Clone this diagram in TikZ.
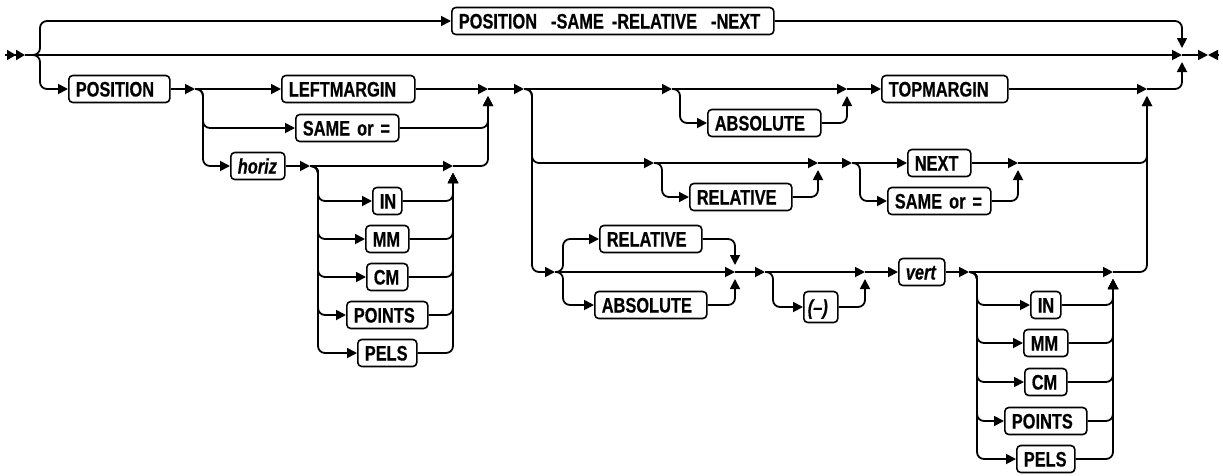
\documentclass[tikz,border=0pt]{standalone}
\usepackage{fontspec}
\setmainfont{Liberation Sans}[FakeStretch=0.78, BoldFeatures={FakeBold=0.5}, BoldItalicFeatures={FakeBold=0.5}]
\usetikzlibrary{arrows.meta}
\tikzset{
  every picture/.style={font=\fontsize{21}{24}\selectfont\bfseries, >={Triangle[length=10pt,width=10pt]}},
  caja/.style={draw, line width=1.6pt, rounded corners=4pt, anchor=west, minimum height=27pt,
               text height=15pt, text depth=0pt, inner xsep=7pt, inner ysep=2pt,
               text width=#1, align=left},
  var/.style={caja=#1, font=\fontsize{21}{24}\selectfont\bfseries\itshape},
  flecha/.style={->, line width=1.8pt, rounded corners=7pt},
  inicio/.style={-{Triangle[length=9pt,width=10pt]Triangle[length=9pt,width=10pt]}, line width=1.8pt},
}

\begin{document}
\begin{tikzpicture}[x=1pt, y=-1pt]
  \useasboundingbox (0,0) rectangle (1223,475);
  % bifurcaciones y uniones
  \coordinate (ini) at (5,55);   \coordinate (fin) at (1208,55); \coordinate (finb) at (1218,55);
  \coordinate (c1) at (40,55);   \coordinate (c2) at (203,89);   \coordinate (c3) at (318,166);
  \coordinate (c4) at (532,89);  \coordinate (c5) at (680,89);   \coordinate (c6) at (662,163);
  \coordinate (c7) at (860,163); \coordinate (c8) at (563,272);  \coordinate (c9) at (773,272);
  \coordinate (c10) at (977,272);
  \coordinate (j0) at (1182,55); \coordinate (j1) at (488,89);   \coordinate (j2) at (453,166);
  \coordinate (j3) at (847,89);  \coordinate (j4) at (1147,89);  \coordinate (j5) at (818,163);
  \coordinate (j6) at (1018,163);\coordinate (j7) at (735,272);  \coordinate (j8) at (865,272);
  \coordinate (j9) at (1113,272);
  % palabras clave
  \node[caja=308pt] (todo) at (451,21) {POSITION\hspace{14pt}-SAME\hspace{8pt}-RELATIVE\hspace{14pt}-NEXT};
  \node[caja=87pt] (pos) at (68,89) {POSITION};
  \node[caja=119pt] (lm) at (281,89) {LEFTMARGIN};
  \node[caja=89pt] (samel) at (295,128) {SAME or =};
  \node[var=40pt] (horiz) at (230,166) {horiz};
  \node[caja=99pt] (abs1) at (707,123) {ABSOLUTE};
  \node[caja=112pt] (topm) at (881,89) {TOPMARGIN};
  \node[caja=88pt] (rel1) at (689,197) {RELATIVE};
  \node[caja=49pt] (next) at (907,163) {NEXT};
  \node[caja=89pt] (samer) at (887,201) {SAME or =};
  \node[caja=88pt] (rel2) at (599,239) {RELATIVE};
  \node[caja=98pt] (abs2) at (594,305) {ABSOLUTE};
  \node[caja=26pt, inner xsep=4pt, minimum height=31pt] (menos) at (803,307) {\itshape(--)};
  \node[var=32pt] (vert) at (898,272) {vert};

  % linea principal
  \draw[inicio] (ini) -- ([xshift=-15pt]c1);
  \draw[flecha] ([xshift=-15pt]c1) -- (j0);
  \draw[flecha] ([xshift=-15pt]c1) -| (c1 |- todo.west) -- (todo.west);
  \draw[flecha] (todo.east) -| ([yshift=7pt]j0);
  \draw[flecha] ([xshift=-15pt]c1) -| (c1 |- pos.west) -- (pos.west);
  \draw[flecha] (j0) -- (fin); \draw[flecha] (finb) -- (fin);

  % horizontal
  \draw[flecha] (pos.east) -- ([xshift=-8pt]c2);
  \draw[flecha] ([xshift=-8pt]c2) -- (lm.west);
  \draw[flecha] ([xshift=-8pt]c2) -| (c2 |- samel.west) -- (samel.west);
  \draw[flecha] ([xshift=-8pt]c2) -| (c2 |- horiz.west) -- (horiz.west);
  \draw[flecha] (lm.east) -- (j1);
  \draw[flecha] (samel.east) -| ([yshift=-7pt]j1);
  \draw[flecha] (horiz.east) -- ([xshift=-8pt]c3);
  \draw[flecha] ([xshift=-8pt]c3) -- (j2);
  \foreach \n/\txt/\x/\y/\w in {inL/IN/372/201/15, mmL/MM/365/239/29, cmL/CM/366/277/27,
                                ptL/POINTS/346/315/67, peL/PELS/357/353/45}{
    \node[caja=\w pt] (\n) at (\x,\y) {\txt};
    \draw[flecha] ([xshift=-8pt]c3) -| (c3 |- \n.west) -- (\n.west);
    \draw[flecha] (\n.east) -| ([yshift=-7pt]j2);
  }
  \draw[flecha] (j2) -| ([yshift=-7pt]j1);

  % vertical: TOPMARGIN
  \draw[flecha] (j1) -- ([xshift=-8pt]c4);
  \draw[flecha] ([xshift=-8pt]c4) -- ([xshift=-8pt]c5);
  \draw[flecha] ([xshift=-8pt]c5) -- (j3);
  \draw[flecha] ([xshift=-8pt]c5) -| (c5 |- abs1.west) -- (abs1.west);
  \draw[flecha] (abs1.east) -| ([yshift=-7pt]j3);
  \draw[flecha] (j3) -- (topm.west);
  \draw[flecha] (topm.east) -- (j4);
  \draw[flecha] (j4) -| ([yshift=-7pt]j0);

  % vertical: NEXT
  \draw[flecha] ([xshift=-8pt]c4) -| (c4 |- c6) -- ([xshift=-8pt]c6);
  \draw[flecha] ([xshift=-8pt]c6) -- (j5);
  \draw[flecha] ([xshift=-8pt]c6) -| (c6 |- rel1.west) -- (rel1.west);
  \draw[flecha] (rel1.east) -| ([yshift=-7pt]j5);
  \draw[flecha] (j5) -- ([xshift=-8pt]c7);
  \draw[flecha] ([xshift=-8pt]c7) -- (next.west);
  \draw[flecha] ([xshift=-8pt]c7) -| (c7 |- samer.west) -- (samer.west);
  \draw[flecha] (next.east) -- (j6);
  \draw[flecha] (samer.east) -| ([yshift=-7pt]j6);
  \draw[flecha] (j6) -| ([yshift=-7pt]j4);

  % vertical: vert
  \draw[flecha] ([xshift=-8pt]c4) -| (c4 |- c8) -- ([xshift=-8pt]c8);
  \draw[flecha] ([xshift=-8pt]c8) -- (j7);
  \draw[flecha] ([xshift=-8pt]c8) -| (c8 |- rel2.west) -- (rel2.west);
  \draw[flecha] ([xshift=-8pt]c8) -| (c8 |- abs2.west) -- (abs2.west);
  \draw[flecha] (rel2.east) -| ([yshift=7pt]j7);
  \draw[flecha] (abs2.east) -| ([yshift=-7pt]j7);
  \draw[flecha] (j7) -- ([xshift=-8pt]c9);
  \draw[flecha] ([xshift=-8pt]c9) -- (j8);
  \draw[flecha] ([xshift=-8pt]c9) -| (c9 |- menos.west) -- (menos.west);
  \draw[flecha] (menos.east) -| ([yshift=-7pt]j8);
  \draw[flecha] (j8) -- (vert.west);
  \draw[flecha] (vert.east) -- ([xshift=-8pt]c10);
  \draw[flecha] ([xshift=-8pt]c10) -- (j9);
  \foreach \n/\txt/\x/\y/\w in {inR/IN/1030/305/16, mmR/MM/1023/343/30, cmR/CM/1024/382/28,
                                ptR/POINTS/1004/421/68, peR/PELS/1016/459/44}{
    \node[caja=\w pt] (\n) at (\x,\y) {\txt};
    \draw[flecha] ([xshift=-8pt]c10) -| (c10 |- \n.west) -- (\n.west);
    \draw[flecha] (\n.east) -| ([yshift=-7pt]j9);
  }
  \draw[flecha] (j9) -| ([yshift=-7pt]j4);
\end{tikzpicture}
\end{document}
